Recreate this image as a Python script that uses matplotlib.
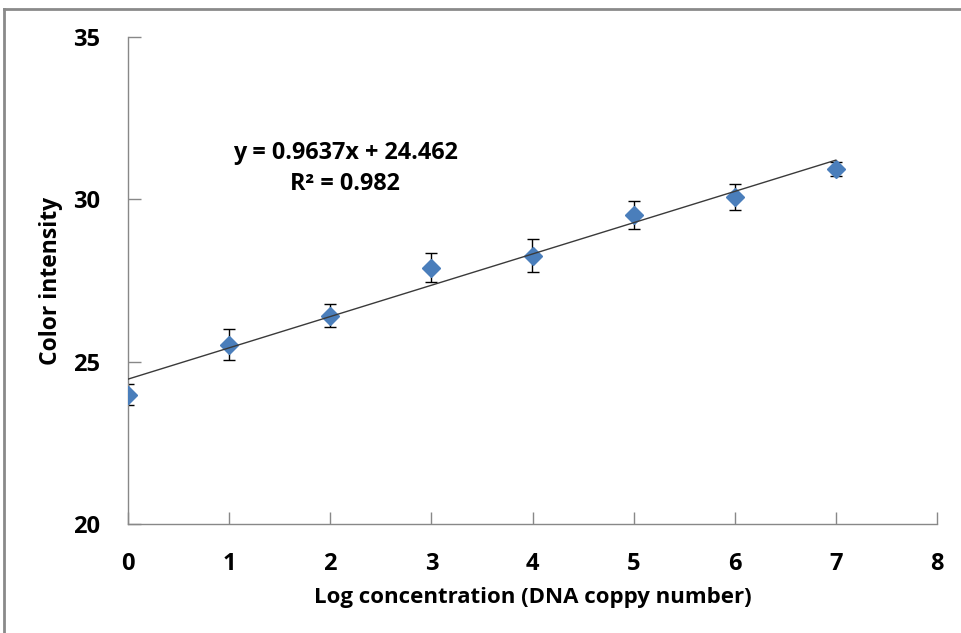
import matplotlib

matplotlib.use("Agg")
import matplotlib.pyplot as plt
from matplotlib.lines import Line2D

# data
log_conc = [0, 1, 2, 3, 4, 5, 6, 7]
intensity = [23.98, 25.52, 26.42, 27.90, 28.27, 29.51, 30.06, 30.93]
err = [0.32, 0.48, 0.35, 0.45, 0.52, 0.43, 0.40, 0.22]
slope = 0.9637
intercept = 24.462
r_squared = 0.982
x_ticks = [0, 1, 2, 3, 4, 5, 6, 7, 8]
y_ticks = [20, 25, 30, 35]

plt.rcParams.update(
    {
        "font.family": ["Open Sans", "DejaVu Sans"],
        "font.weight": "bold",
        "axes.linewidth": 1.0,
    }
)

fig = plt.figure(figsize=(9.62, 6.33), dpi=100)
ax = fig.add_axes([128 / 962, 1 - 524 / 633, (937 - 128) / 962, (524 - 37) / 633])

blue = "#4A7EBB"
ax.errorbar(
    log_conc,
    intensity,
    yerr=err,
    fmt="none",
    ecolor="black",
    elinewidth=1.0,
    capsize=4.3,
    capthick=1.0,
    zorder=2,
)
ax.plot(log_conc, intensity, linestyle="none", marker="D", markersize=9.5,
        color=blue, markeredgecolor=blue, zorder=3)

fit_x = [min(log_conc), max(log_conc)]
fit_y = [slope * v + intercept for v in fit_x]
ax.plot(fit_x, fit_y, color="#3a3a3a", linewidth=1.0, zorder=4)

ax.text(
    2.15, 30.94,
    f"y = {slope}x + {intercept}\nR\u00b2 = {r_squared}",
    ha="center", va="center", fontsize=16.8, fontweight="bold",
    linespacing=1.4, color="black",
)

ax.set_xlim(0, 8)
ax.set_ylim(20, 35)
ax.set_xticks(x_ticks)
ax.set_yticks(y_ticks)
ax.tick_params(axis="both", direction="in", length=9, width=1.0,
               color="#888888", labelsize=17)
ax.tick_params(axis="x", pad=20)
ax.tick_params(axis="y", pad=20)
for lab in ax.get_xticklabels() + ax.get_yticklabels():
    lab.set_fontweight("bold")
for side in ("top", "right"):
    ax.spines[side].set_visible(False)
for side in ("left", "bottom"):
    ax.spines[side].set_color("#888888")

ax.set_xlabel("Log concentration (DNA coppy number)", fontsize=16,
              fontweight="bold", labelpad=8)
ax.set_ylabel("Color intensity", fontsize=16.5, fontweight="bold", labelpad=7)

# frame around the figure (left and top edges visible)
fig.add_artist(Line2D([4 / 962, 4 / 962], [0, 1 - 9 / 633], color="#8a8a8a",
                      linewidth=2.0, transform=fig.transFigure))
fig.add_artist(Line2D([4 / 962, 1], [1 - 9 / 633, 1 - 9 / 633], color="#8a8a8a",
                      linewidth=2.0, transform=fig.transFigure))

fig.savefig("out.png", dpi=100)
